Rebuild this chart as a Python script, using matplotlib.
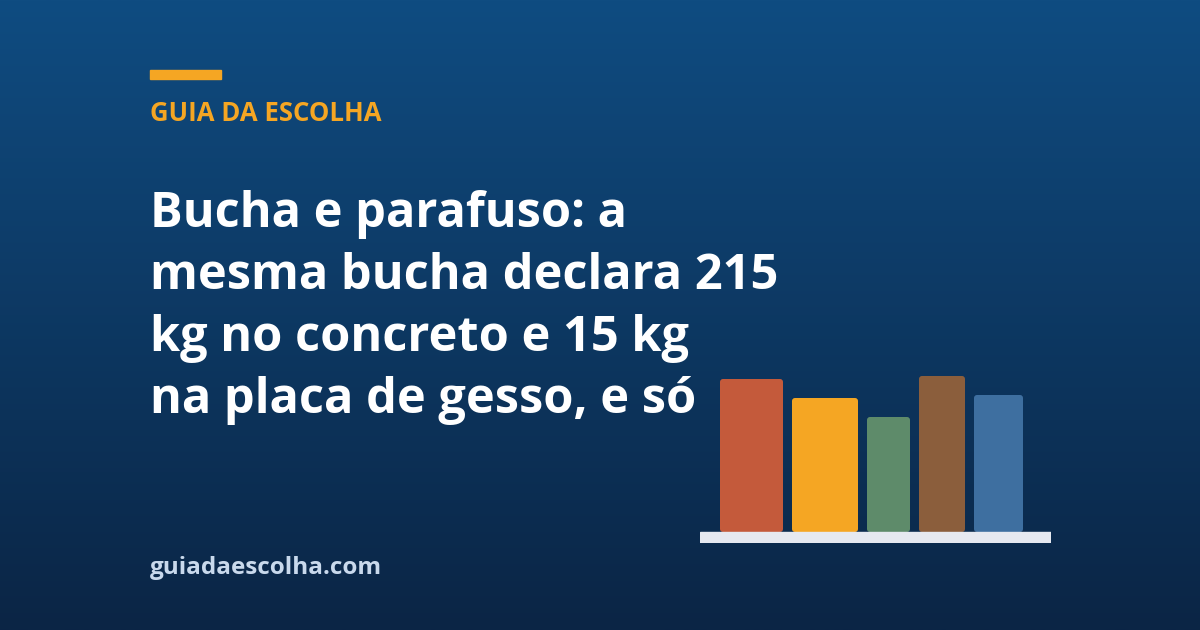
import numpy as np
import matplotlib
matplotlib.use("Agg")
import matplotlib.pyplot as plt
from matplotlib.patches import FancyBboxPatch, Rectangle
from matplotlib.colors import LinearSegmentedColormap

# ---- data ----
bar_values = [153, 134, 115, 156, 137]
bar_colors = ["#C45A3B", "#F5A623", "#5E8B6A", "#8B5E3C", "#3E6FA0"]
kicker = "GUIA DA ESCOLHA"
title_lines = ["Bucha e parafuso: a",
               "mesma bucha declara 215",
               "kg no concreto e 15 kg",
               "na placa de gesso, e só"]
footer = "guiadaescolha.com"

W, H = 1200, 630
fig = plt.figure(figsize=(W / 100, H / 100), dpi=100)

# background gradient
bg = fig.add_axes([0, 0, 1, 1])
bg.set_xlim(0, W)
bg.set_ylim(H, 0)
bg.axis("off")
cmap = LinearSegmentedColormap.from_list("bg", ["#0F4C81", "#0B2545"])
grad = np.linspace(0, 1, 256).reshape(-1, 1)
bg.imshow(grad, cmap=cmap, aspect="auto", extent=[0, W, H, 0], zorder=0)

# accent rule
bg.add_patch(Rectangle((150, 70), 71, 9, color="#F5A623", zorder=2))

FONT = "Open Sans"
bg.text(150, 121, kicker, color="#F5A623", fontsize=18.5, fontweight="bold",
        family=FONT, va="baseline", ha="left", zorder=3)

baselines = [227, 289, 351, 413]
for line, yb in zip(title_lines, baselines):
    bg.text(150, yb, line, color="white", fontsize=35.1, fontweight="bold",
            family=FONT, va="baseline", ha="left", zorder=3)

bg.text(150, 574, footer, color="#C9D9EC", fontsize=17.5, fontweight="bold",
        family=FONT, va="baseline", ha="left", zorder=3)

# bar chart (pixel-scaled axes so rounded corners stay round)
x0, x1 = 700, 1051
ytop, ybot = 370, 543
cx = fig.add_axes([x0 / W, (H - ybot) / H, (x1 - x0) / W, (ybot - ytop) / H])
cx.set_xlim(x0, x1)
cx.set_ylim(-(ybot - 532), ybot - ytop - (ybot - 532))
cx.axis("off")
cx.patch.set_alpha(0)

centers = [751.5, 825, 888.5, 942, 998.5]
widths = [63, 66, 43, 46, 49]
bars = cx.bar(centers, bar_values, width=widths, color=bar_colors)
for r, c in zip(bars, bar_colors):
    r.set_visible(False)
    x, y = r.get_x(), r.get_y()
    w, h = r.get_width(), r.get_height()
    cx.add_patch(FancyBboxPatch((x, y), w, h,
                                boxstyle="round,pad=0,rounding_size=3",
                                facecolor=c, edgecolor="none", zorder=2))
cx.add_patch(Rectangle((x0, -(ybot - 532)), x1 - x0, ybot - 532,
                       color="#E6E9F0", zorder=3))

fig.savefig("out.png", dpi=100)
